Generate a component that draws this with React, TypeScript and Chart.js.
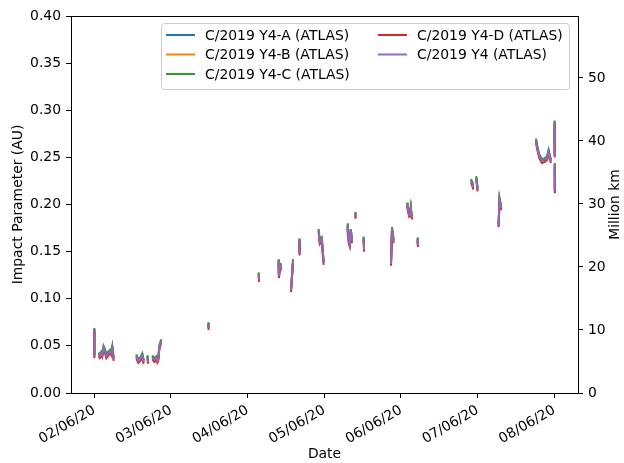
import React, { useEffect, useRef } from 'react';
import { Chart, registerables } from 'chart.js';

Chart.register(...registerables);

// x axis: one unit per tick interval
const tickPositions = [0, 1, 2, 3, 4, 5, 6];
const tickLabels = ['02/06/20', '03/06/20', '04/06/20', '05/06/20', '06/06/20', '07/06/20', '08/06/20'];
const leftTicks = [0, 0.05, 0.1, 0.15, 0.2, 0.25, 0.3, 0.35, 0.4];
const rightTicks = [0, 10, 20, 30, 40, 50];
const AU_IN_MKM = 149.597871;

const seriesLabels = ['C/2019 Y4-A (ATLAS)', 'C/2019 Y4-B (ATLAS)', 'C/2019 Y4-C (ATLAS)', 'C/2019 Y4-D (ATLAS)', 'C/2019 Y4 (ATLAS)'];
const seriesColors = ['#1f77b4', '#ff7f0e', '#2ca02c', '#d62728', '#9467bd'];

const xs = [
  0.000, 0.001, null,
  0.056, 0.072, 0.091, 0.104, 0.121, 0.137, 0.157, 0.183, 0.209, 0.222, 0.235, 0.252, null,
  0.548, 0.561, 0.574, 0.600, 0.626, 0.639, 0.652, null,
  0.691, 0.704, null,
  0.756, 0.783, 0.809, 0.822, 0.835, 0.848, 0.861, 0.874, null,
  1.487, 1.491, null,
  2.143, 2.150, null,
  2.404, 2.408, 2.426, 2.430, null,
  2.566, 2.592, null,
  2.674, 2.678, null,
  2.926, 2.941, 2.967, 2.991, null,
  3.296, 3.306, 3.320, 3.333, 3.346, 3.361, null,
  3.404, 3.408, null,
  3.512, 3.519, null,
  3.870, 3.883, 3.904, null,
  4.079, 4.089, 4.096, null,
  4.115, 4.128, 4.135, 4.148, null,
  4.217, 4.221, null,
  4.913, 4.930, 4.943, null,
  4.982, 4.999, null,
  5.273, 5.286, 5.308, null,
  5.761, 5.778, 5.804, 5.839, 5.869, 5.904, 5.925, 5.938, 5.957, null,
  6.004, 6.005, null,
  6.006, 6.007,
];

const valuesA = [
  0.068, 0.040, null,
  0.042, 0.040, 0.043, 0.041, 0.049, 0.046, 0.040, 0.043, 0.045, 0.043, 0.049, 0.037, null,
  0.040, 0.037, 0.035, 0.037, 0.041, 0.035, 0.036, null,
  0.039, 0.034, null,
  0.039, 0.036, 0.038, 0.035, 0.037, 0.049, 0.053, 0.056, null,
  0.074, 0.070, null,
  0.127, 0.121, null,
  0.141, 0.125, 0.137, 0.132, null,
  0.110, 0.141, null,
  0.163, 0.149, null,
  0.173, 0.161, 0.164, 0.139, null,
  0.171, 0.179, 0.161, 0.158, 0.173, 0.162, null,
  0.191, 0.188, null,
  0.165, 0.153, null,
  0.138, 0.175, 0.162, null,
  0.201, 0.197, 0.194, null,
  0.189, 0.197, 0.191, 0.187, null,
  0.164, 0.158, null,
  0.226, 0.223, 0.219, null,
  0.229, 0.217, null,
  0.179, 0.206, 0.197, null,
  0.269, 0.261, 0.252, 0.247, 0.248, 0.250, 0.257, 0.252, 0.247, null,
  0.288, 0.253, null,
  0.243, 0.215,
];

const valuesB = [
  0.067, 0.039, null,
  0.041, 0.039, 0.042, 0.040, 0.048, 0.045, 0.039, 0.042, 0.044, 0.042, 0.048, 0.036, null,
  0.039, 0.036, 0.034, 0.036, 0.040, 0.034, 0.035, null,
  0.038, 0.033, null,
  0.038, 0.035, 0.037, 0.034, 0.036, 0.048, 0.052, 0.055, null,
  0.073, 0.069, null,
  0.126, 0.120, null,
  0.140, 0.124, 0.136, 0.131, null,
  0.109, 0.140, null,
  0.162, 0.148, null,
  0.172, 0.160, 0.163, 0.138, null,
  0.170, 0.178, 0.160, 0.157, 0.172, 0.161, null,
  0.190, 0.187, null,
  0.164, 0.152, null,
  0.137, 0.174, 0.161, null,
  0.200, 0.196, 0.193, null,
  0.188, 0.196, 0.190, 0.186, null,
  0.163, 0.157, null,
  0.225, 0.222, 0.218, null,
  0.228, 0.216, null,
  0.178, 0.205, 0.196, null,
  0.268, 0.260, 0.251, 0.246, 0.247, 0.249, 0.256, 0.251, 0.246, null,
  0.287, 0.252, null,
  0.242, 0.214,
];

const valuesC = [
  0.069, 0.041, null,
  0.043, 0.041, 0.044, 0.042, 0.050, 0.047, 0.041, 0.044, 0.046, 0.044, 0.050, 0.038, null,
  0.041, 0.038, 0.036, 0.038, 0.042, 0.036, 0.037, null,
  0.040, 0.035, null,
  0.040, 0.037, 0.039, 0.036, 0.038, 0.050, 0.054, 0.057, null,
  0.075, 0.071, null,
  0.128, 0.122, null,
  0.142, 0.126, 0.138, 0.133, null,
  0.111, 0.142, null,
  0.164, 0.150, null,
  0.174, 0.162, 0.165, 0.140, null,
  0.172, 0.180, 0.162, 0.159, 0.174, 0.163, null,
  0.192, 0.189, null,
  0.166, 0.154, null,
  0.139, 0.176, 0.163, null,
  0.202, 0.198, 0.195, null,
  0.190, 0.198, 0.192, 0.188, null,
  0.165, 0.159, null,
  0.227, 0.224, 0.220, null,
  0.230, 0.218, null,
  0.180, 0.207, 0.198, null,
  0.270, 0.262, 0.253, 0.248, 0.249, 0.251, 0.258, 0.253, 0.248, null,
  0.289, 0.254, null,
  0.244, 0.216,
];

const valuesD = [
  0.065, 0.037, null,
  0.039, 0.037, 0.040, 0.038, 0.046, 0.043, 0.037, 0.040, 0.042, 0.040, 0.046, 0.034, null,
  0.037, 0.034, 0.032, 0.034, 0.038, 0.032, 0.033, null,
  0.036, 0.031, null,
  0.036, 0.033, 0.035, 0.032, 0.034, 0.046, 0.050, 0.053, null,
  0.071, 0.067, null,
  0.124, 0.118, null,
  0.138, 0.122, 0.134, 0.129, null,
  0.107, 0.138, null,
  0.160, 0.146, null,
  0.170, 0.158, 0.161, 0.136, null,
  0.168, 0.176, 0.158, 0.155, 0.170, 0.159, null,
  0.188, 0.185, null,
  0.162, 0.150, null,
  0.135, 0.172, 0.159, null,
  0.198, 0.194, 0.191, null,
  0.186, 0.194, 0.188, 0.184, null,
  0.161, 0.155, null,
  0.223, 0.220, 0.216, null,
  0.226, 0.214, null,
  0.176, 0.203, 0.194, null,
  0.266, 0.258, 0.249, 0.244, 0.245, 0.247, 0.254, 0.249, 0.244, null,
  0.285, 0.250, null,
  0.240, 0.212,
];

const valuesY4 = [
  0.067, 0.039, null,
  0.041, 0.039, 0.042, 0.040, 0.048, 0.045, 0.039, 0.042, 0.044, 0.042, 0.048, 0.036, null,
  0.039, 0.036, 0.034, 0.036, 0.040, 0.034, 0.035, null,
  0.038, 0.033, null,
  0.038, 0.035, 0.037, 0.034, 0.036, 0.048, 0.052, 0.055, null,
  0.073, 0.069, null,
  0.126, 0.120, null,
  0.140, 0.124, 0.136, 0.131, null,
  0.109, 0.140, null,
  0.162, 0.148, null,
  0.172, 0.160, 0.163, 0.138, null,
  0.170, 0.178, 0.160, 0.157, 0.172, 0.161, null,
  0.190, 0.187, null,
  0.164, 0.152, null,
  0.137, 0.174, 0.161, null,
  0.200, 0.196, 0.193, null,
  0.188, 0.196, 0.190, 0.186, null,
  0.163, 0.157, null,
  0.225, 0.222, 0.218, null,
  0.228, 0.216, null,
  0.178, 0.205, 0.196, null,
  0.268, 0.260, 0.251, 0.246, 0.247, 0.249, 0.256, 0.251, 0.246, null,
  0.287, 0.252, null,
  0.242, 0.214,
];

const allValues = [valuesA, valuesB, valuesC, valuesD, valuesY4];

const FONT = 'DejaVu Sans';
const FS = 13.9;

function toPoints(vals: (number | null)[]) {
  const pts: { x: number; y: number | null }[] = [];
  let lastX = 0;
  for (let i = 0; i < xs.length; i++) {
    const x = xs[i];
    if (x === null || vals[i] === null) {
      pts.push({ x: lastX, y: null });
    } else {
      lastX = x as number;
      pts.push({ x: x as number, y: vals[i] as number });
    }
  }
  return pts;
}

const framePlugin = {
  id: 'frameAndExtras',
  afterDatasetsDraw(chart: any) {
    const { ctx, chartArea: ca } = chart;
    ctx.save();
    // top spine
    ctx.strokeStyle = '#000';
    ctx.lineWidth = 1;
    ctx.beginPath();
    ctx.moveTo(ca.left, ca.top + 0.5);
    ctx.lineTo(ca.right, ca.top + 0.5);
    ctx.stroke();

    // legend
    const bx = 161.5, by = 23.5, bw = 408, bh = 66;
    ctx.beginPath();
    if ((ctx as any).roundRect) (ctx as any).roundRect(bx, by, bw, bh, 3);
    else ctx.rect(bx, by, bw, bh);
    ctx.fillStyle = 'rgba(255,255,255,0.8)';
    ctx.fill();
    ctx.strokeStyle = '#cccccc';
    ctx.lineWidth = 1;
    ctx.stroke();

    const colX = [166, 378];
    const rowY = [35, 54.5, 74];
    const layout = [
      [0, 0, 0], [1, 0, 1], [2, 0, 2], [3, 1, 0], [4, 1, 1],
    ];
    ctx.font = `${FS}px "${FONT}"`;
    ctx.textBaseline = 'middle';
    ctx.textAlign = 'left';
    layout.forEach(([di, c, r]) => {
      const ds = chart.data.datasets[di];
      const x = colX[c];
      const y = rowY[r];
      ctx.strokeStyle = ds.borderColor;
      ctx.lineWidth = 2;
      ctx.beginPath();
      ctx.moveTo(x, y);
      ctx.lineTo(x + 29, y);
      ctx.stroke();
      ctx.fillStyle = '#000';
      ctx.fillText(ds.label, x + 39, y + 1);
    });

    // right axis title (reads bottom to top)
    ctx.save();
    ctx.translate(615, (ca.top + ca.bottom) / 2);
    ctx.rotate(-Math.PI / 2);
    ctx.textAlign = 'center';
    ctx.textBaseline = 'middle';
    ctx.fillStyle = '#000';
    ctx.fillText('Million km', 0, 0);
    ctx.restore();
    ctx.restore();
  },
};

export default function App() {
  const ref = useRef<HTMLCanvasElement | null>(null);

  useEffect(() => {
    if (!ref.current) return;
    const order = [5, 4, 3, 2, 1];
    const chart = new Chart(ref.current, {
      type: 'line',
      data: {
        datasets: seriesLabels.map((label, i) => ({
          label,
          data: toPoints(allValues[i]),
          borderColor: seriesColors[i],
          backgroundColor: seriesColors[i],
          borderWidth: 2,
          pointRadius: 0,
          tension: 0,
          spanGaps: false,
          order: order[i],
          yAxisID: 'y',
        })),
      },
      options: {
        responsive: false,
        animation: false,
        devicePixelRatio: 1,
        layout: { padding: { top: 16, left: 0, right: 0, bottom: 0 } },
        plugins: {
          legend: { display: false },
          tooltip: { enabled: false },
        },
        scales: {
          x: {
            type: 'linear',
            min: -0.304,
            max: 6.309,
            afterBuildTicks: (s: any) => {
              s.ticks = tickPositions.map((v) => ({ value: v }));
            },
            afterFit: (s: any) => {
              s.height = 70;
            },
            ticks: {
              autoSkip: false,
              minRotation: 30,
              maxRotation: 30,
              padding: 4,
              color: '#000',
              font: { family: FONT, size: FS },
              callback: (v: any) => {
                const idx = tickPositions.indexOf(Number(v));
                return idx >= 0 ? tickLabels[idx] : '';
              },
            },
            grid: { drawOnChartArea: false, drawTicks: true, tickLength: 5, color: '#000', lineWidth: 1 },
            border: { display: true, color: '#000', width: 1 },
            title: {
              display: true,
              text: 'Date',
              color: '#000',
              font: { family: FONT, size: FS },
              padding: { top: 0, bottom: 0 },
            },
          },
          y: {
            type: 'linear',
            position: 'left',
            min: 0,
            max: 0.4,
            afterBuildTicks: (s: any) => {
              s.ticks = leftTicks.map((v) => ({ value: v }));
            },
            afterFit: (s: any) => {
              s.width = 71;
            },
            ticks: {
              padding: 5,
              color: '#000',
              font: { family: FONT, size: FS },
              callback: (v: any) => Number(v).toFixed(2),
            },
            grid: { drawOnChartArea: false, drawTicks: true, tickLength: 5, color: '#000', lineWidth: 1 },
            border: { display: true, color: '#000', width: 1 },
            title: {
              display: true,
              text: 'Impact Parameter (AU)',
              color: '#000',
              font: { family: FONT, size: FS },
              padding: { top: 10, bottom: 0 },
            },
          },
          y2: {
            type: 'linear',
            position: 'right',
            min: 0,
            max: 0.4 * AU_IN_MKM,
            afterBuildTicks: (s: any) => {
              s.ticks = rightTicks.map((v) => ({ value: v }));
            },
            afterFit: (s: any) => {
              s.width = 46;
            },
            ticks: {
              padding: 5,
              color: '#000',
              font: { family: FONT, size: FS },
              callback: (v: any) => String(v),
            },
            grid: { drawOnChartArea: false, drawTicks: true, tickLength: 5, color: '#000', lineWidth: 1 },
            border: { display: true, color: '#000', width: 1 },
          },
        },
      },
      plugins: [framePlugin],
    } as any);
    return () => chart.destroy();
  }, []);

  return (
    <div style={{ position: 'absolute', left: 0, top: 0, width: 624, height: 463, background: '#fff' }}>
      <canvas ref={ref} width={624} height={463} style={{ display: 'block', width: 624, height: 463 }} />
    </div>
  );
}
